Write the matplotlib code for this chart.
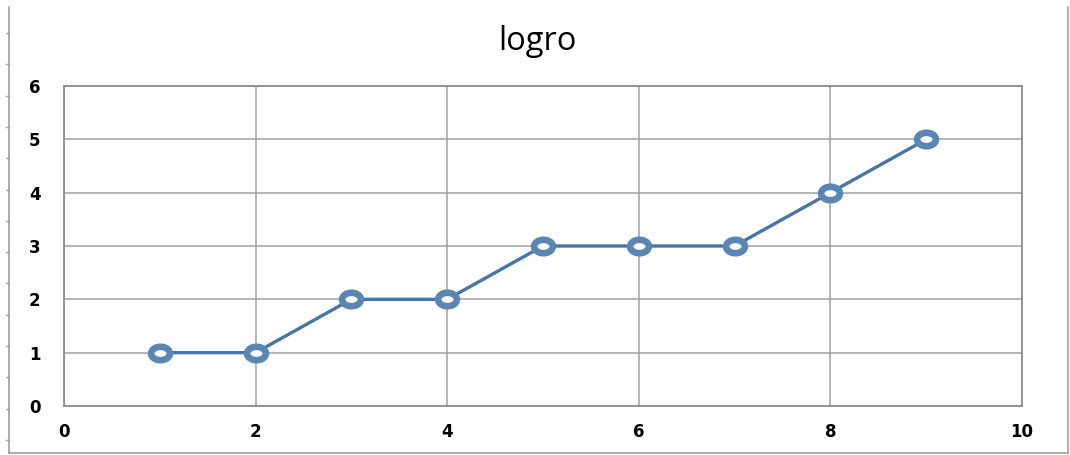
import numpy as np
import matplotlib
matplotlib.use("Agg")
import matplotlib.pyplot as plt
from matplotlib.path import Path
from matplotlib.lines import Line2D

x_values = [1, 2, 3, 4, 5, 6, 7, 8, 9]
y_values = [1, 1, 2, 2, 3, 3, 3, 4, 5]
x_ticks = [0, 2, 4, 6, 8, 10]
y_ticks = [0, 1, 2, 3, 4, 5, 6]
title = "logro"

W, H = 1070, 455
fig = plt.figure(figsize=(W / 100, H / 100), dpi=100)
ax = fig.add_axes([64 / W, 1 - 406 / H, (1022 - 64) / W, (406 - 86) / H])

# elliptical ring marker (chart was horizontally stretched)
t = np.linspace(0, 2 * np.pi, 60)
ell = Path(np.column_stack([1.4 * np.cos(t), np.sin(t)]), closed=True)

ax.plot(x_values, y_values, color="#4775A8", lw=2.4, zorder=3, clip_on=False)
ax.plot(x_values, y_values, ls="none", marker=ell, ms=13.5,
        mfc="white", mec="#5A86B6", mew=4.8, zorder=4, clip_on=False)

ax.set_xlim(0, 10)
ax.set_ylim(0, 6)
ax.set_xticks(x_ticks)
ax.set_yticks(y_ticks)
ax.grid(True, color="#A0A0A0", lw=1.1)
ax.set_axisbelow(True)
for s in ax.spines.values():
    s.set_color("#8C8C8C")
    s.set_linewidth(1.3)
ax.tick_params(length=0, labelsize=12, labelcolor="black")
ax.tick_params(axis="y", pad=17)
ax.tick_params(axis="x", pad=12)
for lab in ax.get_xticklabels() + ax.get_yticklabels():
    lab.set_fontweight("bold")

fig.text(537 / W, 1 - 41 / H, title, ha="center", va="center", fontsize=23.5,
         family="Open Sans")

# outer frame from the screenshot
gray = "#A0A0A0"
fig.add_artist(Line2D([9 / W, 9 / W], [1 - 7 / H, 1 - 453 / H], color=gray, lw=1.2, transform=fig.transFigure))
fig.add_artist(Line2D([9 / W, 1068 / W], [1 - 453 / H, 1 - 453 / H], color=gray, lw=1.2, transform=fig.transFigure))
fig.add_artist(Line2D([1068 / W, 1068 / W], [1 - 7 / H, 1 - 453 / H], color=gray, lw=1.2, transform=fig.transFigure))
for k in range(14):
    yy = 33 + 31.3 * k
    fig.add_artist(Line2D([6 / W, 9 / W], [1 - yy / H, 1 - yy / H], color=gray, lw=1, transform=fig.transFigure))

fig.savefig("out.png", dpi=100, facecolor="white")
